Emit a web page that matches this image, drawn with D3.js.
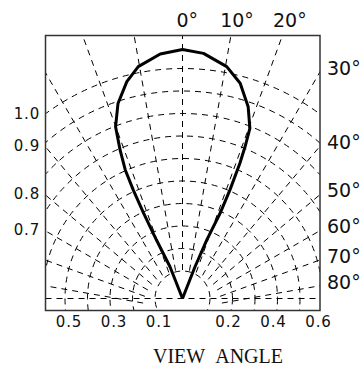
<!DOCTYPE html>
<html>
<head>
<meta charset="utf-8">
<script src="https://cdn.jsdelivr.net/npm/d3@7"></script>
<style>
  html, body { margin: 0; padding: 0; background: #fff; }
  svg { display: block; }
</style>
</head>
<body>
<svg id="chart" width="364" height="370"></svg>
<script>
// data
const ringValues = [0.1, 0.2, 0.3, 0.4, 0.5, 0.6, 0.7, 0.8, 0.9, 1.0];
const spokeAngles = [-80, -70, -60, -50, -40, -30, -20, -10, 0, 10, 20, 30, 40, 50, 60, 70, 80];
const topLabels = [0, 10, 20];
const sideLabels = [30, 40, 50, 60, 70, 80];
const bottomLabels = [-0.5, -0.3, -0.1, 0.2, 0.4, 0.6];
const leftLabels = ["1.0", "0.9", "0.8", "0.7"];
const leftLabelSpokes = [35, 40, 50, 60];

// radiation pattern: angle (deg) and relative intensity
const curveAngle = [-22, -21.5, -24.0, -24.5, -24.4, -24.0, -22.8, -21.3, -18.3, -14.4, -10.8, -5.2, 0,
                    4.9, 10.8, 15.0, 18.9, 21.6, 22.4, 23.0, 23.6, 23.8, 22.5, 21.5, 22];
const curveIntensity = [0, 0.137, 0.257, 0.377, 0.478, 0.565, 0.647, 0.740, 0.825, 0.899, 0.948, 0.986, 1.0,
                        0.988, 0.948, 0.895, 0.814, 0.735, 0.659, 0.590, 0.476, 0.374, 0.254, 0.137, 0];

const svg = d3.select("#chart");

// frame and centres
const x0 = 45.5, x1 = 320, y0 = 35.5, y1 = 310.5;
const cx = 182.5, cy = 298.5;   // pole of the pattern
const hubY = 310;                // where the dashed spokes meet
const spokeStart = 40;           // spokes leave the hub clear

const ang = d3.scaleLinear().domain([-90, 90]).range([-Math.PI / 2, Math.PI / 2]);
const rRing = d3.scaleLinear().domain([0, 1]).range([5, 230]);
const rCurve = d3.scaleLinear().domain([0, 1]).range([0, 249]);

svg.append("clipPath").attr("id", "box")
  .append("rect").attr("x", x0).attr("y", y0).attr("width", x1 - x0).attr("height", y1 - y0);

const grid = svg.append("g")
  .attr("clip-path", "url(#box)")
  .attr("fill", "none")
  .attr("stroke", "#000")
  .attr("stroke-width", 1)
  .attr("stroke-dasharray", "6,5");

grid.selectAll("circle.ring")
  .data(ringValues)
  .enter().append("circle")
    .attr("class", "ring")
    .attr("cx", cx)
    .attr("cy", cy)
    .attr("r", d => rRing(d));

grid.selectAll("line.spoke")
  .data(spokeAngles)
  .enter().append("line")
    .attr("class", "spoke")
    .attr("x1", d => cx + spokeStart * Math.sin(ang(d)))
    .attr("y1", d => hubY - spokeStart * Math.cos(ang(d)))
    .attr("x2", d => cx + 420 * Math.sin(ang(d)))
    .attr("y2", d => hubY - 420 * Math.cos(ang(d)));

// the 90 degree line
grid.append("line")
  .attr("x1", x0).attr("x2", x1)
  .attr("y1", cy).attr("y2", cy);

// pattern
const line = d3.lineRadial()
  .angle(i => ang(curveAngle[i]))
  .radius(i => rCurve(curveIntensity[i]));

svg.append("path")
  .attr("transform", "translate(" + cx + "," + cy + ")")
  .attr("d", line(d3.range(curveAngle.length)))
  .attr("fill", "none")
  .attr("stroke", "#000")
  .attr("stroke-width", 3)
  .attr("stroke-linejoin", "round");

svg.append("rect")
  .attr("x", x0).attr("y", y0)
  .attr("width", x1 - x0).attr("height", y1 - y0)
  .attr("fill", "none")
  .attr("stroke", "#333")
  .attr("stroke-width", 1.5);

// labels
const degFont = "DejaVu Sans", numFont = "DejaVu Sans";

svg.selectAll("text.top")
  .data(topLabels)
  .enter().append("text")
    .attr("class", "top")
    .attr("x", d => cx + (hubY - 28) * Math.tan(ang(d)))
    .attr("y", 27)
    .attr("dx", "0.25em")
    .attr("text-anchor", "middle")
    .attr("font-family", degFont)
    .attr("font-size", 19)
    .attr("fill", "#111")
    .text(d => d + "°");

svg.selectAll("text.side")
  .data(sideLabels)
  .enter().append("text")
    .attr("class", "side")
    .attr("x", 327)
    .attr("y", d => hubY - (x1 - cx) / Math.tan(ang(d)) - 4)
    .attr("dy", "0.36em")
    .attr("font-family", degFont)
    .attr("font-size", 19)
    .attr("fill", "#111")
    .text(d => d + "°");

svg.selectAll("text.left")
  .data(leftLabels)
  .enter().append("text")
    .attr("class", "left")
    .attr("x", 40)
    .attr("y", (d, i) => hubY - (cx - x0) / Math.tan(ang(leftLabelSpokes[i])) - 1)
    .attr("dy", "0.36em")
    .attr("text-anchor", "end")
    .attr("font-family", numFont)
    .attr("font-size", 15)
    .attr("letter-spacing", 0.8)
    .attr("fill", "#111")
    .text(d => d);

svg.selectAll("text.bottom")
  .data(bottomLabels)
  .enter().append("text")
    .attr("class", "bottom")
    .attr("x", d => cx + Math.sign(d) * (rRing(Math.abs(d)) - 4))
    .attr("y", 327)
    .attr("text-anchor", "middle")
    .attr("font-family", numFont)
    .attr("font-size", 15)
    .attr("letter-spacing", 0.8)
    .attr("fill", "#111")
    .text(d => d3.format(".1f")(Math.abs(d)));

svg.append("text")
  .attr("x", 218)
  .attr("y", 363)
  .attr("text-anchor", "middle")
  .attr("font-family", "Liberation Serif")
  .attr("font-size", 20)
  .attr("fill", "#111")
  .text("VIEW\u00A0\u00A0ANGLE");
</script>
</body>
</html>
